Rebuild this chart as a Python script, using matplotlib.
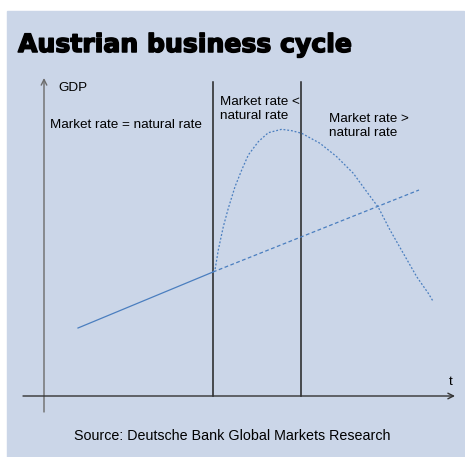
import matplotlib.pyplot as plt
import matplotlib.patheffects as pe
from matplotlib.patches import Rectangle

# data in chart units: t to the right of the GDP axis, GDP above the t axis
trend_solid_t = [34, 169]
trend_solid_gdp = [68, 124]
trend_dash_t = [169, 375]
trend_dash_gdp = [124, 206]
boom_t = [169, 171, 174.3, 179.3, 184.3, 191, 197.7, 204.3, 214.3, 224.3,
          237.7, 247.7, 257.7, 276, 292.7, 309.3, 322.7, 334.3, 346, 359.3,
          372.7, 384.3, 389.3]
boom_gdp = [124, 126, 146, 169.3, 187.7, 209.3, 226, 241, 254.3, 263.3,
            266.7, 265.3, 262.7, 252.7, 239.3, 222.7, 204.3, 188.7, 166,
            142.7, 119.3, 102.7, 94.3]
regime_t = [169, 257]
regime_top = 314

title = "Austrian business cycle"
source = "Source: Deutsche Bank Global Markets Research"

panel = "#cbd6e8"
blue = "#4a7ebf"

fig = plt.figure(figsize=(4.65, 4.57), dpi=100)
ax = fig.add_axes([0, 0, 1, 1])
ax.set_xlim(-44, 421)
ax.set_ylim(-61, 396)
ax.axis("off")

ax.add_patch(Rectangle((-37, -61), 457, 446, color=panel, zorder=0))

# axes with arrows
ax.annotate("", xy=(0, 318), xytext=(0, -16),
            arrowprops=dict(arrowstyle="->", color="#6b6b6b", lw=1.0,
                            shrinkA=0, shrinkB=0))
ax.annotate("", xy=(411, 0), xytext=(-21, 0),
            arrowprops=dict(arrowstyle="->", color="#333333", lw=1.0,
                            shrinkA=0, shrinkB=0))

for t in regime_t:
    ax.plot([t, t], [0, regime_top], color="#222222", lw=1.1)

ax.plot(trend_solid_t, trend_solid_gdp, color=blue, lw=0.9)
ax.plot(trend_dash_t, trend_dash_gdp, color=blue, lw=0.9, ls=(0, (3, 2)))
ax.plot(boom_t, boom_gdp, color=blue, lw=0.9, ls=(0, (1.5, 1.5)))

fs = 9.7
ax.text(-26, 344, title, fontsize=18.1, fontweight="heavy",
        fontfamily="DejaVu Sans", va="baseline", ha="left",
        path_effects=[pe.withStroke(linewidth=1.1, foreground="black")])
ax.text(14, 308, "GDP", fontsize=fs, fontfamily="Liberation Sans", va="center")
ax.text(6, 271, "Market rate = natural rate", fontsize=fs,
        fontfamily="Liberation Sans", va="center")
ax.text(176, 300, "Market rate <\nnatural rate", fontsize=fs,
        fontfamily="Liberation Sans", va="top", linespacing=1.25)
ax.text(285, 283, "Market rate >\nnatural rate", fontsize=fs,
        fontfamily="Liberation Sans", va="top", linespacing=1.25)
ax.text(405, 14, "t", fontsize=fs, fontfamily="Liberation Sans", va="center")
ax.text(188, -40, source, fontsize=10.3, fontfamily="Liberation Sans",
        va="center", ha="center")

fig.savefig("out.png", dpi=100, facecolor="white")
